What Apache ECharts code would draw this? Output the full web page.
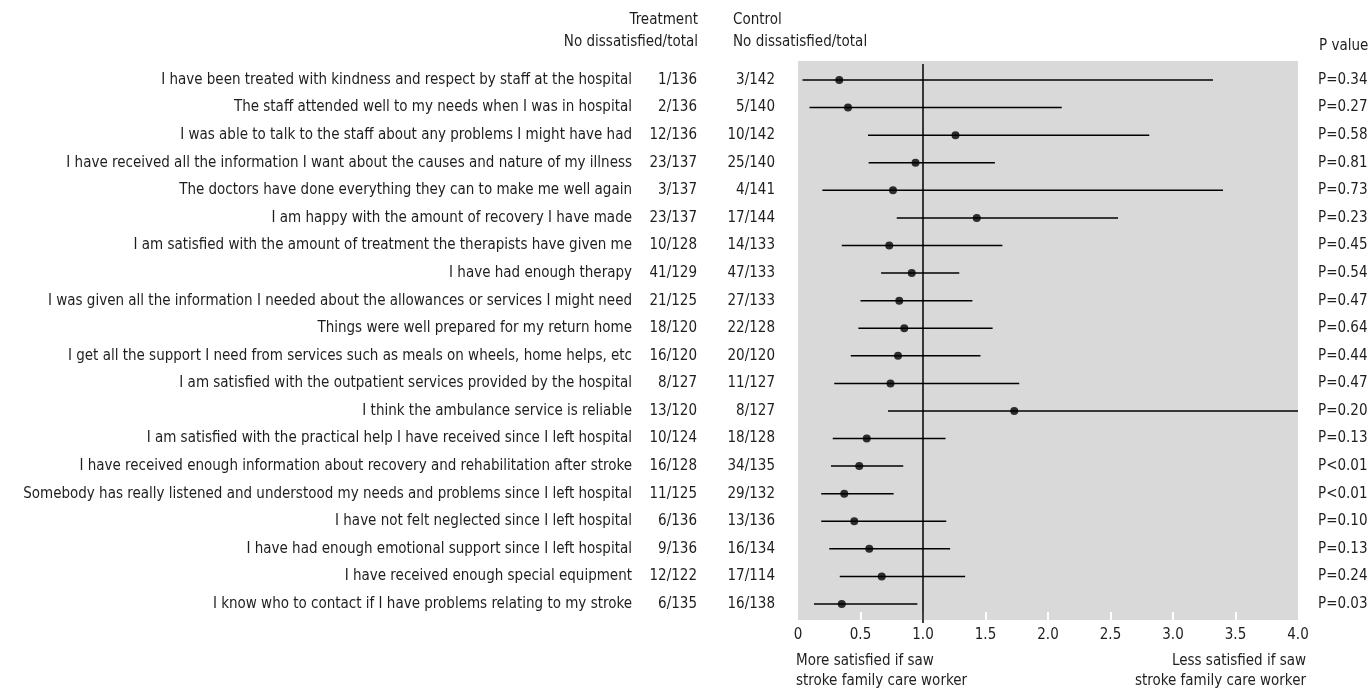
<!DOCTYPE html>
<html>
<head>
<meta charset="utf-8">
<script src="https://cdn.jsdelivr.net/npm/echarts@6/dist/echarts.min.js"></script>
<style>
html,body{margin:0;padding:0;background:#fff;}
#chart{width:1372px;height:691px;}
</style>
</head>
<body>
<div id="chart"></div>
<script>
const categories = [
  "I have been treated with kindness and respect by staff at the hospital",
  "The staff attended well to my needs when I was in hospital",
  "I was able to talk to the staff about any problems I might have had",
  "I have received all the information I want about the causes and nature of my illness",
  "The doctors have done everything they can to make me well again",
  "I am happy with the amount of recovery I have made",
  "I am satisfied with the amount of treatment the therapists have given me",
  "I have had enough therapy",
  "I was given all the information I needed about the allowances or services I might need",
  "Things were well prepared for my return home",
  "I get all the support I need from services such as meals on wheels, home helps, etc",
  "I am satisfied with the outpatient services provided by the hospital",
  "I think the ambulance service is reliable",
  "I am satisfied with the practical help I have received since I left hospital",
  "I have received enough information about recovery and rehabilitation after stroke",
  "Somebody has really listened and understood my needs and problems since I left hospital",
  "I have not felt neglected since I left hospital",
  "I have had enough emotional support since I left hospital",
  "I have received enough special equipment",
  "I know who to contact if I have problems relating to my stroke"
];
const treatment = ["1/136","2/136","12/136","23/137","3/137","23/137","10/128","41/129","21/125","18/120","16/120","8/127","13/120","10/124","16/128","11/125","6/136","9/136","12/122","6/135"];
const control = ["3/142","5/140","10/142","25/140","4/141","17/144","14/133","47/133","27/133","22/128","20/120","11/127","8/127","18/128","34/135","29/132","13/136","16/134","17/114","16/138"];
const pValues = ["P=0.34","P=0.27","P=0.58","P=0.81","P=0.73","P=0.23","P=0.45","P=0.54","P=0.47","P=0.64","P=0.44","P=0.47","P=0.20","P=0.13","P<0.01","P<0.01","P=0.10","P=0.13","P=0.24","P=0.03"];
const estimate = [0.33,0.40,1.26,0.94,0.76,1.43,0.73,0.91,0.81,0.85,0.80,0.74,1.73,0.55,0.49,0.37,0.45,0.57,0.67,0.35];
const lower = [0.036,0.092,0.56,0.565,0.195,0.79,0.35,0.665,0.50,0.483,0.422,0.29,0.72,0.278,0.264,0.186,0.186,0.25,0.334,0.128];
const upper = [3.32,2.11,2.81,1.575,3.40,2.56,1.635,1.29,1.395,1.557,1.46,1.77,4.0,1.18,0.842,0.765,1.186,1.217,1.337,0.955];
const xTickLabels = ["0","0.5","1.0","1.5","2.0","2.5","3.0","3.5","4.0"];
const innerTicks = [0.5,1,1.5,2,2.5,3,3.5];
const refValue = 1;
const headers = {
  treatment: ["Treatment","No dissatisfied/total"],
  control: ["Control","No dissatisfied/total"],
  pvalue: "P value",
  left: ["More satisfied if saw","stroke family care worker"],
  right: ["Less satisfied if saw","stroke family care worker"]
};

const FONT = '"DejaVu Sans Condensed",sans-serif';
const FS = 15;
const TXT = '#1e1e1e';
const rowIdx = categories.map((_, i) => i);

const yBase = {
  type: 'value', inverse: true, min: -0.69, max: 19.58,
  axisLine: {show: false}, axisTick: {show: false}, splitLine: {show: false}
};
function yAx(position, margin, labels) {
  return Object.assign({}, yBase, {
    position: position,
    axisLabel: {
      show: true, customValues: rowIdx, margin: margin,
      fontFamily: FONT, fontSize: FS, color: TXT,
      formatter: v => labels[Math.round(v)] ?? ''
    }
  });
}

const chart = echarts.init(document.getElementById('chart'), null, {renderer: 'canvas'});
const option = {
  animation: false,
  backgroundColor: '#fff',
  grid: {left: 798, right: 74, top: 61, bottom: 71, show: true, backgroundColor: '#d9d9d9', borderWidth: 0,
         containLabel: false, outerBoundsMode: 'none'},
  xAxis: {
    type: 'value', min: 0, max: 4, interval: 0.5, position: 'bottom',
    axisLine: {show: false, onZero: false},
    splitLine: {show: false},
    axisTick: {show: true, inside: true, length: 8, customValues: innerTicks, lineStyle: {color: '#fff', width: 2}},
    axisLabel: {
      margin: 8, fontFamily: FONT, fontSize: FS, color: TXT,
      formatter: v => xTickLabels[Math.round(v * 2)] ?? ''
    }
  },
  yAxis: [
    yAx('left', 166, categories),
    yAx('left', 101, treatment),
    yAx('left', 23, control),
    yAx('right', 20, pValues)
  ],
  series: [
    {
      type: 'line', yAxisIndex: 0, clip: false, symbol: 'none', silent: true,
      data: [[refValue, -0.58], [refValue, 19.69]],
      lineStyle: {color: '#000', width: 1.5}, z: 3
    },
    {
      type: 'custom', yAxisIndex: 0, clip: false,
      data: rowIdx.map(i => [i, lower[i], upper[i]]),
      encode: {x: [1, 2], y: 0},
      renderItem: function (params, api) {
        const y = api.value(0);
        const p1 = api.coord([api.value(1), y]);
        const p2 = api.coord([api.value(2), y]);
        return {type: 'line', shape: {x1: p1[0], y1: p1[1], x2: p2[0], y2: p2[1]},
                style: {stroke: '#000', lineWidth: 1.5}};
      },
      z: 4
    },
    {
      type: 'scatter', yAxisIndex: 0, symbol: 'circle', symbolSize: 8,
      itemStyle: {color: '#000'},
      data: rowIdx.map(i => [estimate[i], i]), z: 5
    }
  ],
  graphic: [
    {type: 'text', x: 698, y: 20, style: {text: headers.treatment[0], textAlign: 'right', textVerticalAlign: 'middle', fontFamily: FONT, fontSize: FS, fill: TXT}},
    {type: 'text', x: 698, y: 42, style: {text: headers.treatment[1], textAlign: 'right', textVerticalAlign: 'middle', fontFamily: FONT, fontSize: FS, fill: TXT}},
    {type: 'text', x: 733, y: 20, style: {text: headers.control[0], textAlign: 'left', textVerticalAlign: 'middle', fontFamily: FONT, fontSize: FS, fill: TXT}},
    {type: 'text', x: 733, y: 42, style: {text: headers.control[1], textAlign: 'left', textVerticalAlign: 'middle', fontFamily: FONT, fontSize: FS, fill: TXT}},
    {type: 'text', x: 1319, y: 46, style: {text: headers.pvalue, textAlign: 'left', textVerticalAlign: 'middle', fontFamily: FONT, fontSize: FS, fill: TXT}},
    {type: 'text', x: 796, y: 661, style: {text: headers.left[0], textAlign: 'left', textVerticalAlign: 'middle', fontFamily: FONT, fontSize: FS, fill: TXT}},
    {type: 'text', x: 796, y: 681, style: {text: headers.left[1], textAlign: 'left', textVerticalAlign: 'middle', fontFamily: FONT, fontSize: FS, fill: TXT}},
    {type: 'text', x: 1306, y: 661, style: {text: headers.right[0], textAlign: 'right', textVerticalAlign: 'middle', fontFamily: FONT, fontSize: FS, fill: TXT}},
    {type: 'text', x: 1306, y: 681, style: {text: headers.right[1], textAlign: 'right', textVerticalAlign: 'middle', fontFamily: FONT, fontSize: FS, fill: TXT}}
  ]
};
chart.setOption(option);
</script>
</body>
</html>
